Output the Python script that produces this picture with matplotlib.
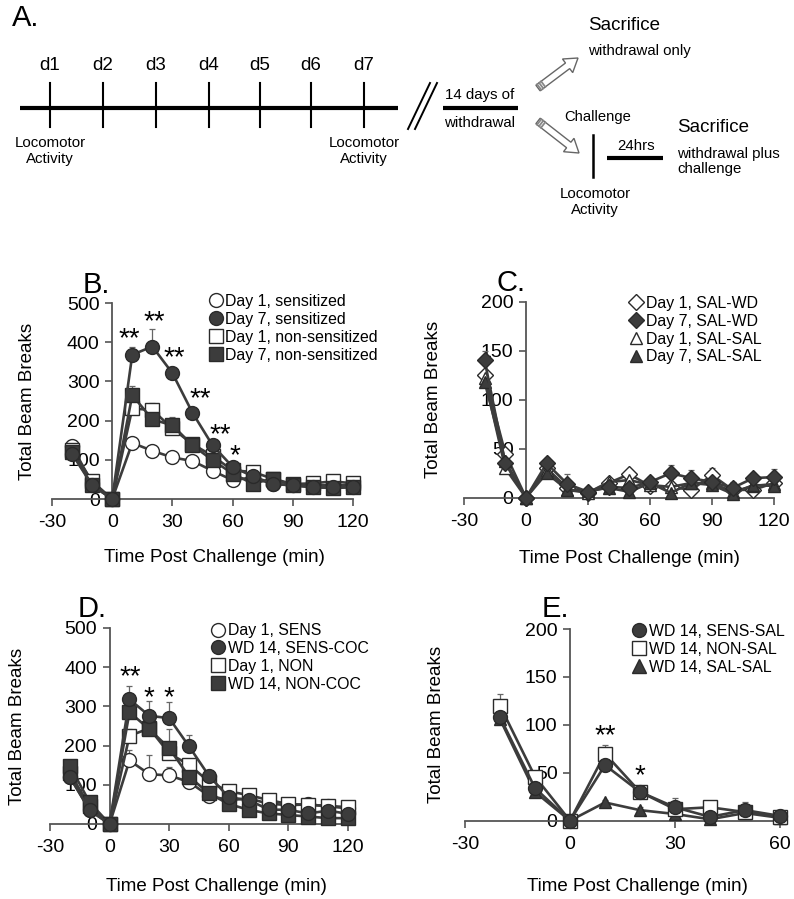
import matplotlib
matplotlib.use('Agg')
import matplotlib.pyplot as plt
from matplotlib.lines import Line2D
from matplotlib.patches import FancyArrow
import numpy as np

plt.rcParams['font.family'] = ['Liberation Sans', 'DejaVu Sans']
plt.rcParams['axes.unicode_minus'] = False

W, H = 794, 899

# ── Data ──
x_long = [-20, -10, 0, 10, 20, 30, 40, 50, 60, 70, 80, 90, 100, 110, 120]
x_short = [-20, -10, 0, 10, 20, 30, 40, 50, 60]

# B. sensitization (beam breaks)
b_d1_sens = [135, 40, 0, 143, 123, 106, 97, 72, 48, 55, 38, 35, 35, 35, 35]
b_d7_sens = [115, 35, 0, 368, 389, 321, 220, 137, 82, 58, 39, 35, 30, 30, 30]
b_d1_non = [125, 45, 0, 231, 227, 180, 140, 110, 73, 69, 52, 38, 40, 45, 40]
b_d7_non = [120, 35, 0, 265, 203, 188, 137, 99, 65, 39, 52, 35, 30, 28, 30]
b_d1_sens_err = [8, 5, 0, 8, 5, 5, 5, 5, 5, 5, 5, 5, 5, 5, 5]
b_d7_sens_err = [8, 6, 0, 20, 45, 15, 8, 6, 6, 5, 5, 5, 5, 5, 5]
b_d1_non_err = [8, 6, 0, 14, 18, 10, 8, 5, 5, 8, 5, 5, 5, 5, 5]
b_d7_non_err = [8, 6, 0, 22, 10, 20, 8, 5, 5, 5, 5, 5, 5, 5, 5]

# C. saline controls
c_d1_wd = [125, 45, 0, 30, 10, 5, 15, 24, 12, 11, 8, 23, 8, 8, 15]
c_d7_wd = [140, 35, 0, 35, 14, 6, 11, 10, 16, 25, 20, 16, 10, 20, 21]
c_d1_sal = [122, 30, 0, 28, 8, 5, 16, 18, 13, 11, 15, 15, 6, 12, 14]
c_d7_sal = [118, 37, 0, 25, 8, 7, 10, 6, 15, 5, 15, 13, 4, 13, 12]
c_d1_wd_err = [5, 5, 0, 4, 4, 3, 3, 4, 8, 5, 5, 7, 4, 4, 5]
c_d7_wd_err = [10, 5, 0, 5, 10, 3, 3, 5, 5, 8, 8, 5, 6, 5, 8]
c_d1_sal_err = [5, 5, 0, 4, 4, 3, 3, 4, 5, 5, 5, 5, 4, 4, 5]
c_d7_sal_err = [5, 5, 0, 4, 4, 3, 3, 3, 5, 4, 5, 5, 4, 4, 5]

# D. withdrawal day 14 cocaine challenge
d_d1_sens = [120, 35, 0, 162, 127, 124, 107, 72, 61, 65, 52, 48, 50, 45, 40]
d_wd_sens = [120, 35, 0, 318, 276, 270, 198, 123, 68, 61, 37, 36, 27, 34, 26]
d_d1_non = [130, 45, 0, 225, 244, 180, 151, 108, 83, 74, 61, 51, 49, 46, 43]
d_wd_non = [148, 55, 0, 285, 242, 193, 121, 78, 51, 36, 27, 23, 19, 15, 15]
d_d1_sens_err = [8, 8, 0, 27, 49, 22, 8, 5, 5, 5, 5, 5, 5, 5, 5]
d_wd_sens_err = [10, 10, 0, 35, 38, 42, 30, 10, 8, 8, 5, 5, 5, 5, 5]
d_d1_non_err = [8, 8, 0, 18, 10, 10, 8, 5, 5, 5, 5, 5, 5, 5, 5]
d_wd_non_err = [8, 8, 0, 15, 15, 50, 10, 5, 5, 5, 5, 5, 5, 5, 5]

# E. withdrawal day 14 saline challenge
e_sens = [108, 34, 0, 58, 30, 14, 4, 11, 5]
e_non = [120, 46, 0, 70, 30, 12, 14, 9, 4]
e_sal = [106, 30, 0, 19, 11, 7, 1.5, 8, 3]
e_sens_err = [8, 5, 0, 5, 5, 10, 3, 8, 3]
e_non_err = [12, 5, 0, 9, 6, 8, 4, 5, 3]
e_sal_err = [5, 4, 0, 3, 3, 3, 2, 3, 2]

# significance marks (x, y, text)
b_stars = [(8.5, 432, '**'), (21, 475, '**'), (31, 383, '**'), (44, 277, '**'), (54, 185, '**'), (61, 133, '*')]
d_stars = [(10.3, 398, '**'), (19.6, 344, '*'), (30, 344, '*')]
e_stars = [(10, 98, '**'), (20, 56, '*')]

DARK = '#3c3c3c'
EDGE = '#2a2a2a'
GRID = '#555555'


def px(x, y):
    return x / W, 1 - y / H


def add_panel(left, right, y0, ytop):
    return fig.add_axes([left / W, 1 - y0 / H, (right - left) / W, (y0 - ytop) / H])


def style(ax, xlim, ylim, yticks, xticks, ylab_x, xlab_x, xlab_y):
    ax.set_xlim(*xlim)
    ax.set_ylim(*ylim)
    ax.spines['top'].set_visible(False)
    ax.spines['right'].set_visible(False)
    ax.spines['left'].set_position(('data', 0))
    for s in ('left', 'bottom'):
        ax.spines[s].set_color(GRID)
        ax.spines[s].set_linewidth(1.3)
    ax.set_xticks(xticks)
    ax.set_yticks(yticks)
    ax.tick_params(axis='both', direction='out', length=5, width=1.2, color=GRID,
                   labelsize=14, pad=4)
    ax.tick_params(axis='x', pad=6)
    ax.set_facecolor('none')
    ax.set_ylabel('Total Beam Breaks', fontsize=13.5)
    ax.yaxis.set_label_coords(ylab_x, 0.5)
    ax.set_xlabel('Time Post Challenge (min)', fontsize=13.5)
    ax.xaxis.set_label_coords(xlab_x, xlab_y)
    ax.xaxis.label.set_va('center')


def series(ax, x, y, err, marker, filled, ms=10):
    fc = DARK if filled else 'white'
    ax.errorbar(x, y, yerr=[np.zeros(len(err)), err], fmt='none', ecolor='#666666',
                elinewidth=0.9, capsize=2.5, capthick=0.9, clip_on=False, zorder=2)
    ax.plot(x, y, color=DARK, lw=1.9, marker=marker, ms=ms, mfc=fc, mec=EDGE,
            mew=1.0, clip_on=False, zorder=3)


def legend(ax, entries, left, top, ms=10):
    handles = [Line2D([], [], ls='none', marker=m, ms=ms, mfc=(DARK if f else 'white'),
                      mec=EDGE, mew=1.0) for m, f, _ in entries]
    labels = [lab for _, _, lab in entries]
    ax.legend(handles, labels, loc='upper left', bbox_to_anchor=(left, top),
              frameon=False, fontsize=11.4, handlelength=0.9, handletextpad=0.15,
              labelspacing=0.18, borderpad=0, borderaxespad=0)


def stars(ax, marks, fs=20):
    for x, y, s in marks:
        ax.annotate(s, (x, y), xytext=(0, -0.58 * fs), textcoords='offset points',
                    ha='center', va='baseline', fontsize=fs)


fig = plt.figure(figsize=(W / 100, H / 100), dpi=100)

# ── Panel A: timeline schematic (pixel coordinates) ──
ax0 = fig.add_axes([0, 0, 1, 1])
ax0.set_xlim(0, W)
ax0.set_ylim(H, 0)
ax0.axis('off')

ax0.plot([20, 398], [108, 108], color='black', lw=3.0, solid_capstyle='butt')
day_x = [50, 103, 156, 209, 260, 311, 364]
for i, dx in enumerate(day_x):
    ax0.plot([dx, dx], [83, 127], color='black', lw=1.5)
    ax0.text(dx, 65, f'd{i + 1}', ha='center', va='center', fontsize=13.5)
for lx in (50, 364):
    ax0.text(lx, 151, 'Locomotor\nActivity', ha='center', va='center', fontsize=10.8,
             linespacing=1.15)
ax0.plot([408, 430], [129, 83], color='black', lw=1.4)
ax0.plot([415, 437], [129, 83], color='black', lw=1.4)
ax0.plot([443, 518], [108, 108], color='black', lw=3.0, solid_capstyle='butt')
ax0.text(480, 95, '14 days of', ha='center', va='center', fontsize=10.8)
ax0.text(480, 123, 'withdrawal', ha='center', va='center', fontsize=10.8)

for (tx, ty), (hx, hy) in [((538, 88), (578, 58)), ((538, 121), (579, 153))]:
    dx, dy = hx - tx, hy - ty
    L = np.hypot(dx, dy)
    ux, uy = dx / L, dy / L
    ax0.add_patch(FancyArrow(tx, ty, dx, dy, width=7, head_width=17, head_length=13,
                             length_includes_head=True, facecolor='white',
                             edgecolor='#666666', lw=1.0))
    for t in (1.5, 4.0, 6.5):
        cx, cy = tx + ux * t, ty + uy * t
        ax0.plot([cx - uy * 3.5, cx + uy * 3.5], [cy + ux * 3.5, cy - ux * 3.5],
                 color='#888888', lw=1.3)

ax0.text(588, 25, 'Sacrifice', ha='left', va='center', fontsize=13.5)
ax0.text(588, 51, 'withdrawal only', ha='left', va='center', fontsize=10.8)
ax0.text(598, 117, 'Challenge', ha='center', va='center', fontsize=10.6)
ax0.plot([593, 593], [135, 177], color='black', lw=1.8)
ax0.text(636, 146, '24hrs', ha='center', va='center', fontsize=10.8)
ax0.plot([607, 663], [158, 158], color='black', lw=3.0, solid_capstyle='butt')
ax0.text(677, 127, 'Sacrifice', ha='left', va='center', fontsize=13.5)
ax0.text(677, 161.5, 'withdrawal plus\nchallenge', ha='left', va='center', fontsize=10.8,
         linespacing=1.15)
ax0.text(595, 202, 'Locomotor\nActivity', ha='center', va='center', fontsize=10.8,
         linespacing=1.15)

# panel letters
for lab, (lx, ly) in [('A.', (12, 26)), ('B.', (83, 293)), ('C.', (496, 291)),
                      ('D.', (78, 617)), ('E.', (542, 617))]:
    fig.text(*px(lx, ly), lab, fontsize=21, ha='left', va='baseline')

# ── Panel B ──
axB = add_panel(52, 353, 499, 303)
style(axB, (-30, 120), (0, 500), range(0, 501, 100), [-30, 0, 30, 60, 90, 120],
      -0.053, 0.54, -0.30)
series(axB, x_long, b_d1_sens, b_d1_sens_err, 'o', False)
series(axB, x_long, b_d1_non, b_d1_non_err, 's', False)
series(axB, x_long, b_d7_non, b_d7_non_err, 's', True)
series(axB, x_long, b_d7_sens, b_d7_sens_err, 'o', True)
legend(axB, [('o', False, 'Day 1, sensitized'), ('o', True, 'Day 7, sensitized'),
             ('s', False, 'Day 1, non-sensitized'), ('s', True, 'Day 7, non-sensitized')],
       0.52, 1.046)
stars(axB, b_stars)

# ── Panel C ──
axC = add_panel(464, 774, 497.7, 301.7)
style(axC, (-30, 120), (0, 200), range(0, 201, 50), [-30, 0, 30, 60, 90, 120],
      -0.071, 0.535, -0.31)
series(axC, x_long, c_d1_wd, c_d1_wd_err, 'D', False, ms=8)
series(axC, x_long, c_d1_sal, c_d1_sal_err, '^', False, ms=9)
series(axC, x_long, c_d7_sal, c_d7_sal_err, '^', True, ms=9)
series(axC, x_long, c_d7_wd, c_d7_wd_err, 'D', True, ms=8)
legend(axC, [('D', False, 'Day 1, SAL-WD'), ('D', True, 'Day 7, SAL-WD'),
             ('^', False, 'Day 1, SAL-SAL'), ('^', True, 'Day 7, SAL-SAL')],
       0.532, 1.03, ms=8.5)

# ── Panel D ──
axD = add_panel(50, 348, 824, 628)
style(axD, (-30, 120), (0, 500), range(0, 501, 100), [-30, 0, 30, 60, 90, 120],
      -0.08, 0.56, -0.32)
series(axD, x_long, d_d1_sens, d_d1_sens_err, 'o', False)
series(axD, x_long, d_d1_non, d_d1_non_err, 's', False)
series(axD, x_long, d_wd_non, d_wd_non_err, 's', True)
series(axD, x_long, d_wd_sens, d_wd_sens_err, 'o', True)
legend(axD, [('o', False, 'Day 1, SENS'), ('o', True, 'WD 14, SENS-COC'),
             ('s', False, 'Day 1, NON'), ('s', True, 'WD 14, NON-COC')],
       0.54, 1.025)
stars(axD, d_stars)

# ── Panel E ──
axE = add_panel(465, 780, 820.7, 629)
style(axE, (-30, 60), (0, 200), range(0, 201, 50), [-30, 0, 30, 60],
      -0.063, 0.546, -0.345)
series(axE, x_short, e_sal, e_sal_err, '^', True, ms=9)
series(axE, x_short, e_non, e_non_err, 's', False)
series(axE, x_short, e_sens, e_sens_err, 'o', True)
legend(axE, [('o', True, 'WD 14, SENS-SAL'), ('s', False, 'WD 14, NON-SAL'),
             ('^', True, 'WD 14, SAL-SAL')],
       0.53, 1.026)
stars(axE, e_stars)

fig.savefig('out.png', dpi=100)
